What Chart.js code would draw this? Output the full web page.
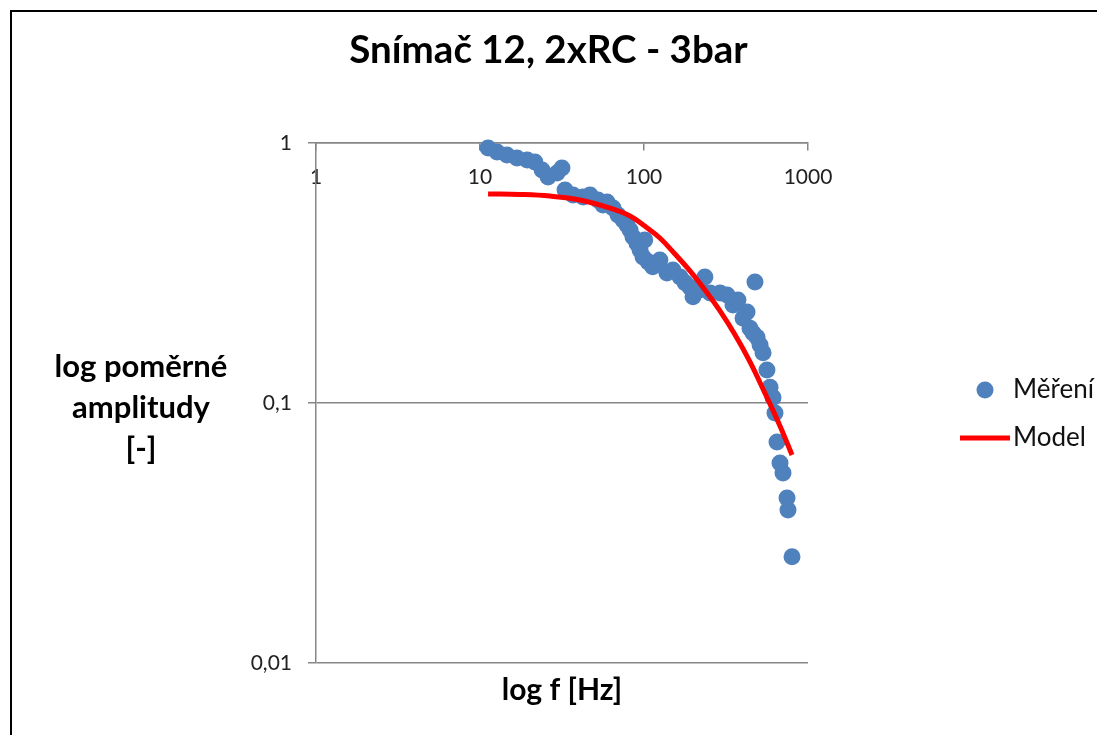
<!DOCTYPE html>
<html>
<head>
<meta charset="utf-8">
<script src="https://cdn.jsdelivr.net/npm/chart.js@4.4.1/dist/chart.umd.min.js"></script>
<style>
html, body { margin: 0; padding: 0; background: #fff; overflow: hidden; }
#wrap { position: relative; width: 1097px; height: 735px; }
#frame { position: absolute; left: 10px; top: 10px; width: 1200px; height: 800px; border: 2px solid #000; box-sizing: border-box; pointer-events: none; }
canvas { position: absolute; left: 0; top: 0; }
</style>
</head>
<body>
<div id="wrap">
  <canvas id="chart" width="1097" height="735"></canvas>
  <div id="frame"></div>
</div>
<script>
// measured points (f [Hz], relative amplitude)
const measFreq = [11.2, 12.7, 14.6, 16.8, 19.4, 21.6, 23.9, 26.0, 29.5, 31.6,
  33.0, 36.9, 42.5, 46.9, 52.4, 56.2, 59.5, 64.7, 69.4, 74.5,
  78.7, 82.2, 85.7, 90.6, 94.6, 98.6, 101, 106, 113, 125,
  138, 150, 166, 178, 191, 199, 219, 235, 253, 291,
  321, 349, 374, 402, 425, 443, 462, 475, 489, 510,
  532, 562, 587, 612, 629, 647, 675, 704, 745, 755, 799];
const measAmp = [0.957, 0.923, 0.899, 0.876, 0.861, 0.845, 0.787, 0.740, 0.767, 0.801,
  0.659, 0.631, 0.620, 0.631, 0.604, 0.577, 0.593, 0.562, 0.529, 0.506,
  0.484, 0.463, 0.435, 0.412, 0.388, 0.364, 0.424, 0.349, 0.334, 0.355,
  0.316, 0.325, 0.305, 0.290, 0.279, 0.256, 0.272, 0.305, 0.265, 0.265,
  0.260, 0.238, 0.249, 0.212, 0.224, 0.194, 0.186, 0.292, 0.179, 0.167,
  0.156, 0.134, 0.115, 0.105, 0.0916, 0.0708, 0.0588, 0.0538, 0.0431, 0.0388, 0.0256];

// model curve
const modelFreq = [11.2, 17.5, 26.7, 40.7, 62.1, 82.2, 101, 125, 154.5, 190.8,
  235.5, 290.6, 358.9, 442.9, 546.7, 674.8, 799];
const modelAmp = [0.637, 0.634, 0.625, 0.604, 0.562, 0.524, 0.479, 0.431, 0.374, 0.322,
  0.272, 0.226, 0.183, 0.144, 0.109, 0.0816, 0.0631];

const xTicks = [1, 10, 100, 1000];
const yTicks = [0.01, 0.1, 1];
const yTickText = ["0,01", "0,1", "1"];

const chartTitle = "Snímač 12, 2xRC - 3bar";
const xTitle = "log f [Hz]";
const yTitleLines = ["log poměrné", "amplitudy", "[-]"];

const axisGray = "#868686";
const fontName = "Lato";

// axis titles + legend, drawn next to the plot like the excel chart
const extraText = {
    id: "extraText",
    afterDraw(chart) {
        const ctx = chart.ctx;
        const area = chart.chartArea;
        ctx.save();
        ctx.fillStyle = "#000";
        ctx.textAlign = "center";
        ctx.textBaseline = "middle";
        ctx.font = "bold 31px " + fontName;
        yTitleLines.forEach(function (t, i) {
            ctx.fillText(t, 141, 367 + i * 41);
        });
        ctx.font = "bold 30px " + fontName;
        ctx.fillText(xTitle, (area.left + area.right) / 2, 690);

        const meas = chart.data.datasets[1];
        const model = chart.data.datasets[0];
        ctx.font = "26px " + fontName;
        ctx.textAlign = "left";

        ctx.beginPath();
        ctx.fillStyle = meas.backgroundColor;
        ctx.arc(985, 390, meas.pointRadius, 0, Math.PI * 2);
        ctx.fill();
        ctx.fillStyle = "#111";
        ctx.fillText(meas.label, 1013, 390);

        ctx.beginPath();
        ctx.strokeStyle = model.borderColor;
        ctx.lineWidth = model.borderWidth;
        ctx.moveTo(960, 438);
        ctx.lineTo(1010, 438);
        ctx.stroke();
        ctx.fillText(model.label, 1013, 438);
        ctx.restore();
    }
};

new Chart(document.getElementById("chart"), {
    type: "scatter",
    data: {
        datasets: [{
            label: "Model",
            data: modelFreq.map(function (f, i) { return { x: f, y: modelAmp[i] }; }),
            showLine: true,
            borderColor: "#ff0000",
            borderWidth: 5,
            pointRadius: 0,
            tension: 0.4,
            order: 0,
            clip: false
        }, {
            label: "Měření",
            data: measFreq.map(function (f, i) { return { x: f, y: measAmp[i] }; }),
            backgroundColor: "#4f81bd",
            borderWidth: 0,
            pointRadius: 8.5,
            order: 1,
            clip: false
        }]
    },
    options: {
        responsive: false,
        animation: false,
        layout: { padding: { bottom: 72 } },
        plugins: {
            legend: { display: false },
            tooltip: { enabled: false },
            title: {
                display: true,
                text: chartTitle,
                color: "#000",
                font: { family: fontName, size: 38.5, weight: "bold" },
                padding: { top: 27, bottom: 69.8 }
            }
        },
        scales: {
            x: {
                type: "logarithmic",
                position: { y: 1 },
                min: 1,
                max: 1000,
                afterBuildTicks: function (s) { s.ticks = xTicks.map(function (v) { return { value: v }; }); },
                grid: { drawOnChartArea: false, tickLength: 7, color: axisGray, lineWidth: 1.5 },
                border: { color: axisGray, width: 1.5 },
                ticks: {
                    padding: 15,
                    color: "#222",
                    maxRotation: 0,
                    autoSkip: false,
                    font: { family: fontName, size: 21 },
                    callback: function (v) { return String(v); }
                }
            },
            y: {
                type: "logarithmic",
                position: "left",
                min: 0.01,
                max: 1,
                afterBuildTicks: function (s) { s.ticks = yTicks.map(function (v) { return { value: v }; }); },
                afterFit: function (s) { s.width = 316; },
                grid: { color: axisGray, tickLength: 8, lineWidth: 1.5 },
                border: { color: axisGray, width: 1.5 },
                ticks: {
                    padding: 16,
                    color: "#222",
                    autoSkip: false,
                    font: { family: fontName, size: 21 },
                    callback: function (v) {
                        const i = yTicks.findIndex(function (t) { return Math.abs(t - v) < t * 1e-6; });
                        return i < 0 ? "" : yTickText[i];
                    }
                }
            },
            yr: {
                type: "linear",
                position: "right",
                afterFit: function (s) { s.width = 289; },
                grid: { display: false },
                border: { display: false },
                ticks: { display: false }
            }
        }
    },
    plugins: [extraText]
});
</script>
</body>
</html>
